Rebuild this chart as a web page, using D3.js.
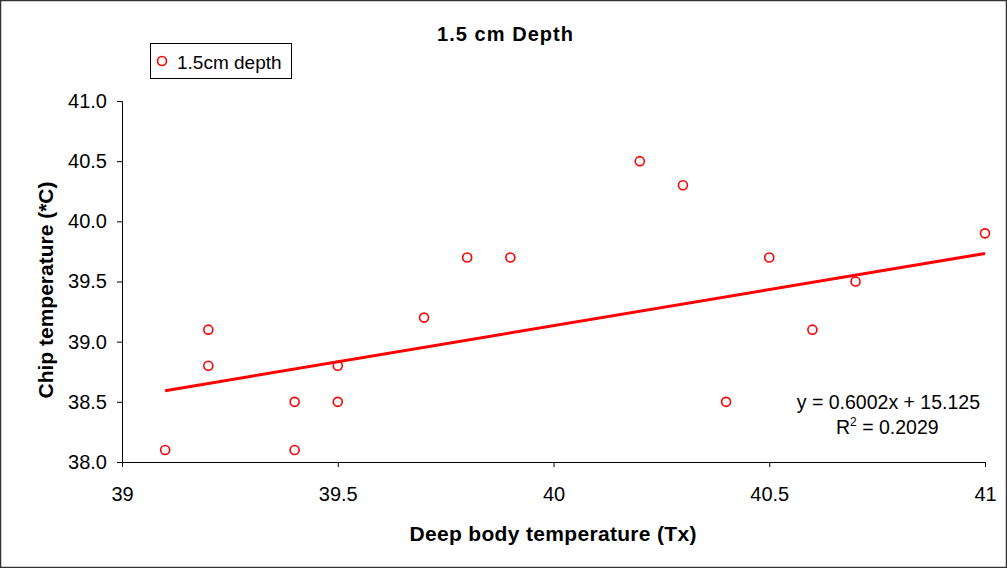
<!DOCTYPE html>
<html>
<head>
<meta charset="utf-8">
<script src="https://cdn.jsdelivr.net/npm/d3@7"></script>
<style>
body { margin:0; background:#fff; }
svg { display:block; font-family:"Liberation Sans", Arial, sans-serif; }
.title { font-weight:bold; font-size:20px; }
.label { font-weight:bold; font-size:21px; }
.axis text { font-size:20px; fill:#000; font-family:"Liberation Sans", Arial, sans-serif; }
.axis path, .axis line { stroke:#000; }
</style>
</head>
<body>
<svg width="1007" height="568"></svg>
<script>
// data
var deepTemp = [39.1, 39.2, 39.2, 39.4, 39.4, 39.5, 39.5, 39.7, 39.8, 39.9, 40.2, 40.3, 40.4, 40.5, 40.6, 40.7, 41.0];
var chipTemp = [38.1, 39.1, 38.8, 38.5, 38.1, 38.8, 38.5, 39.2, 39.7, 39.7, 40.5, 40.3, 38.5, 39.7, 39.1, 39.5, 39.9];
var xTicks = [39, 39.5, 40, 40.5, 41];
var yTicks = [38.0, 38.5, 39.0, 39.5, 40.0, 40.5, 41.0];
var trend = {slope:0.6002, intercept:15.125, r2:0.2029};
var trendRange = [39.1, 41.0];

var points = deepTemp.map(function(d, i)
{
    return {x:d, y:chipTemp[i]};
});

var svg = d3.select("svg");

// outer frame
svg.append("rect")
    .attr("x", 0.5).attr("y", 0.5)
    .attr("width", 1006).attr("height", 567)
    .attr("fill", "none")
    .attr("stroke", "#333")
    .attr("stroke-width", 1.5);

var plot = {left:122, right:985, top:101, bottom:462};

var xScale = d3.scaleLinear()
    .domain([39, 41])
    .range([plot.left, plot.right]);

var yScale = d3.scaleLinear()
    .domain([38, 41])
    .range([plot.bottom, plot.top]);

// axes
var xAxis = d3.axisBottom(xScale)
    .tickValues(xTicks)
    .tickSizeOuter(0)
    .tickSize(5)
    .tickPadding(20)
    .tickFormat(function(d) { return d3.format("")(d); });

var yAxis = d3.axisLeft(yScale)
    .tickValues(yTicks)
    .tickSizeOuter(0)
    .tickSize(5)
    .tickPadding(10)
    .tickFormat(d3.format(".1f"));

svg.append("g")
    .classed("axis", true)
    .attr("transform", "translate(0," + plot.bottom + ")")
    .call(xAxis);

svg.append("g")
    .classed("axis", true)
    .attr("transform", "translate(" + plot.left + ",0)")
    .call(yAxis);

// trend line
svg.append("line")
    .attr("x1", xScale(trendRange[0]))
    .attr("y1", yScale(trend.slope * trendRange[0] + trend.intercept))
    .attr("x2", xScale(trendRange[1]))
    .attr("y2", yScale(trend.slope * trendRange[1] + trend.intercept))
    .attr("stroke", "#ff0000")
    .attr("stroke-width", 3);

// points
svg.append("g")
    .selectAll("circle")
    .data(points)
    .enter()
    .append("circle")
    .attr("cx", function(d) { return xScale(d.x); })
    .attr("cy", function(d) { return yScale(d.y); })
    .attr("r", 4.5)
    .attr("fill", "none")
    .attr("stroke", "#ff0000")
    .attr("stroke-width", 1.6);

// title
svg.append("text")
    .classed("title", true)
    .attr("x", 505)
    .attr("y", 41)
    .attr("text-anchor", "middle")
    .attr("textLength", 136)
    .text("1.5 cm Depth");

// axis labels
svg.append("text")
    .classed("label", true)
    .attr("x", 553)
    .attr("y", 541)
    .attr("text-anchor", "middle")
    .attr("textLength", 287)
    .text("Deep body temperature (Tx)");

svg.append("text")
    .classed("label", true)
    .attr("transform", "translate(53,290) rotate(-90)")
    .attr("text-anchor", "middle")
    .text("Chip temperature (*C)");

// legend
var legend = svg.append("g");
legend.append("rect")
    .attr("x", 150.5).attr("y", 43.5)
    .attr("width", 141).attr("height", 35)
    .attr("fill", "#fff")
    .attr("stroke", "#000");
legend.append("circle")
    .attr("cx", 162).attr("cy", 61)
    .attr("r", 4.5)
    .attr("fill", "none")
    .attr("stroke", "#ff0000")
    .attr("stroke-width", 1.6);
legend.append("text")
    .attr("x", 177).attr("y", 69)
    .attr("font-size", 19)
    .text("1.5cm depth");

// equation
svg.append("text")
    .attr("x", 980).attr("y", 409)
    .attr("text-anchor", "end")
    .attr("font-size", 19.5)
    .text("y = " + trend.slope.toFixed(4) + "x + " + trend.intercept.toFixed(3));

var r2 = svg.append("text")
    .attr("x", 836).attr("y", 434)
    .attr("font-size", 19.5);
r2.append("tspan").text("R");
r2.append("tspan").attr("dy", -8).attr("font-size", 12).text("2");
r2.append("tspan").attr("dy", 8).text(" = " + trend.r2.toFixed(4));
</script>
</body>
</html>
